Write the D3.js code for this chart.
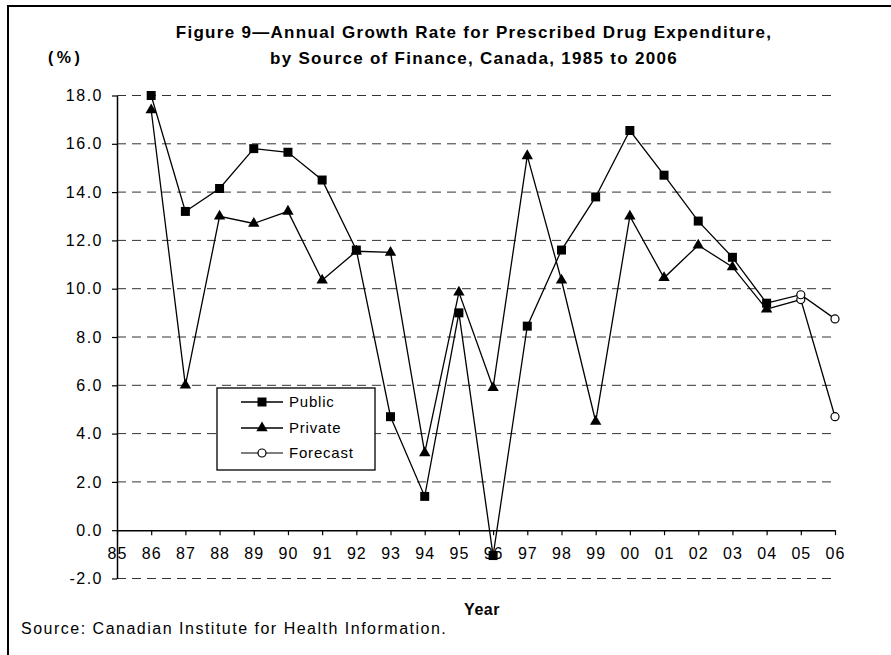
<!DOCTYPE html>
<html>
<head>
<meta charset="utf-8">
<script src="https://cdn.jsdelivr.net/npm/d3@7"></script>
<style>
  body { margin: 0; background: #fff; }
  svg text { font-family: "Liberation Sans", Arial, sans-serif; fill: #000; }
</style>
</head>
<body>
<svg id="chart" width="891" height="655"></svg>
<script>
// values (growth in %)
var years          = [1986, 1987, 1988, 1989, 1990, 1991, 1992, 1993, 1994, 1995,
                      1996, 1997, 1998, 1999, 2000, 2001, 2002, 2003, 2004];
var publicValues   = [18.0, 13.2, 14.15, 15.8, 15.65, 14.5, 11.6, 4.7, 1.4, 9.0,
                      -1.05, 8.45, 11.6, 13.8, 16.55, 14.7, 12.8, 11.3, 9.4];
var privateValues  = [17.4, 6.0, 13.0, 12.7, 13.2, 10.35, 11.55, 11.5, 3.2, 9.85,
                      5.9, 15.5, 10.35, 4.5, 13.0, 10.45, 11.8, 10.9, 9.15];
var forecastYears  = [2005, 2006];
var publicForecast = [9.75, 8.75];
var privateForecast = [9.55, 4.7];

var xTickYears  = d3.range(1985, 2007);
var yTicks      = [-2, 0, 2, 4, 6, 8, 10, 12, 14, 16, 18];
var legendNames = ["Public", "Private", "Forecast"];

var svg = d3.select("#chart");

// outer frame (runs off the right and bottom edge in the original)
svg.append("rect")
    .attr("x", 8).attr("y", 6)
    .attr("width", 950).attr("height", 700)
    .attr("fill", "none").attr("stroke", "#000").attr("stroke-width", 2);

var x = d3.scaleLinear().domain([1985, 2006]).range([117, 835]);
var y = d3.scaleLinear().domain([-2, 18]).range([578.5, 95.5]);

// dashed grid
svg.append("g").selectAll("line")
    .data(yTicks.filter(d => d !== 0))
    .enter().append("line")
      .attr("x1", x(1985)).attr("x2", x(2006) - 3)
      .attr("y1", d => y(d)).attr("y2", d => y(d))
      .attr("stroke", "#333").attr("stroke-width", 1)
      .attr("stroke-dasharray", "9,6");

// y axis
var yAxis = svg.append("g")
    .attr("transform", `translate(${x(1985)},0)`)
    .call(d3.axisLeft(y).tickValues(yTicks).tickSize(5).tickSizeOuter(0)
          .tickPadding(9).tickFormat(d => d.toFixed(1)));
yAxis.select(".domain").attr("stroke", "#000").attr("stroke-width", 1.5);
yAxis.selectAll(".tick line").attr("stroke", "#000").attr("stroke-width", 1.2);
yAxis.selectAll("text").style("font-size", "16px").style("letter-spacing", "1.5px")
    .attr("fill", "#000");

// x axis on the zero line
var xAxis = svg.append("g")
    .attr("transform", `translate(0,${y(0)})`)
    .call(d3.axisBottom(x).tickValues(xTickYears).tickSize(5).tickSizeOuter(0)
          .tickPadding(12).tickFormat(d => String(d).slice(2)));
xAxis.select(".domain").attr("stroke", "#000").attr("stroke-width", 1.5);
xAxis.selectAll(".tick line").attr("stroke", "#000").attr("stroke-width", 1.2);
xAxis.selectAll("text").style("font-size", "16px").style("letter-spacing", "1px")
    .attr("fill", "#000");

// series
var line = d3.line().x(d => x(d[0])).y(d => y(d[1]));
var pub  = years.map((yr, i) => [yr, publicValues[i]]);
var priv = years.map((yr, i) => [yr, privateValues[i]]);
var pubF  = [pub[pub.length - 1]].concat(forecastYears.map((yr, i) => [yr, publicForecast[i]]));
var privF = [priv[priv.length - 1]].concat(forecastYears.map((yr, i) => [yr, privateForecast[i]]));

[privF, pubF].forEach(function (s) {
  svg.append("path").datum(s).attr("d", line)
      .attr("fill", "none").attr("stroke", "#000").attr("stroke-width", 1.3);
});
svg.append("path").datum(priv).attr("d", line)
    .attr("fill", "none").attr("stroke", "#000").attr("stroke-width", 1.3);
svg.append("path").datum(pub).attr("d", line)
    .attr("fill", "none").attr("stroke", "#000").attr("stroke-width", 1.3);

var triangle = d3.symbol().type(d3.symbolTriangle).size(56);
var square   = d3.symbol().type(d3.symbolSquare).size(81);

svg.append("g").selectAll("path")
    .data(priv).enter().append("path")
      .attr("d", triangle)
      .attr("transform", d => `translate(${x(d[0])},${y(d[1])})`)
      .attr("fill", "#000");

svg.append("g").selectAll("path")
    .data(pub).enter().append("path")
      .attr("d", square)
      .attr("transform", d => `translate(${x(d[0])},${y(d[1])})`)
      .attr("fill", "#000");

svg.append("g").selectAll("circle")
    .data(privF.slice(1).concat(pubF.slice(1))).enter().append("circle")
      .attr("cx", d => x(d[0])).attr("cy", d => y(d[1])).attr("r", 4)
      .attr("fill", "#fff").attr("stroke", "#000").attr("stroke-width", 1.2);

// legend
var legend = svg.append("g");
legend.append("rect")
    .attr("x", 217).attr("y", 388).attr("width", 158).attr("height", 82)
    .attr("fill", "#fff").attr("stroke", "#000").attr("stroke-width", 1.3);
var rowY = [402, 428, 453];
legendNames.forEach(function (name, i) {
  var col = i === 2 ? "#555" : "#000";
  legend.append("line")
      .attr("x1", 241).attr("x2", 283).attr("y1", rowY[i]).attr("y2", rowY[i])
      .attr("stroke", col).attr("stroke-width", 1.3);
  if (i === 0) {
    legend.append("path").attr("d", square)
        .attr("transform", `translate(262,${rowY[i]})`).attr("fill", "#000");
  } else if (i === 1) {
    legend.append("path").attr("d", triangle)
        .attr("transform", `translate(262,${rowY[i]})`).attr("fill", "#000");
  } else {
    legend.append("circle").attr("cx", 262).attr("cy", rowY[i]).attr("r", 4)
        .attr("fill", "#fff").attr("stroke", "#000").attr("stroke-width", 1.2);
  }
  legend.append("text")
      .attr("x", 289).attr("y", rowY[i]).attr("dy", "0.35em")
      .style("font-size", "15px").style("letter-spacing", "0.8px")
      .text(name);
});

// titles and notes
svg.append("text")
    .attr("x", 474).attr("y", 38).attr("text-anchor", "middle")
    .style("font-size", "17px").style("font-weight", "bold").style("letter-spacing", "1.3px")
    .text("Figure 9\u2014Annual Growth Rate for Prescribed Drug Expenditure,");
svg.append("text")
    .attr("x", 474).attr("y", 64).attr("text-anchor", "middle")
    .style("font-size", "17px").style("font-weight", "bold").style("letter-spacing", "1.3px")
    .text("by Source of Finance, Canada, 1985 to 2006");
svg.append("text")
    .attr("x", 48).attr("y", 63)
    .style("font-size", "16px").style("font-weight", "bold").style("letter-spacing", "3.5px")
    .text("(%)");
svg.append("text")
    .attr("x", 482).attr("y", 615).attr("text-anchor", "middle")
    .style("font-size", "16px").style("font-weight", "bold").style("letter-spacing", "0.5px")
    .text("Year");
svg.append("text")
    .attr("x", 21).attr("y", 634)
    .style("font-size", "16px").style("letter-spacing", "1.5px")
    .text("Source: Canadian Institute for Health Information.");
</script>
</body>
</html>
